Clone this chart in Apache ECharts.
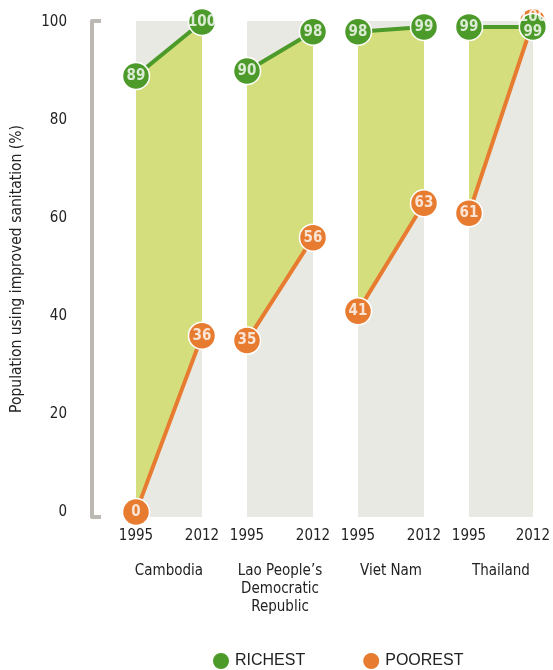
<!DOCTYPE html>
<html><head><meta charset="utf-8">
<script src="https://cdn.jsdelivr.net/npm/echarts@6/dist/echarts.min.js"></script>
<style>html,body{margin:0;padding:0;background:#fff}#c{width:553px;height:670px}</style>
</head><body><div id="c"></div>
<script>
const countries = ['Cambodia', 'Lao People\u2019s\nDemocratic\nRepublic', 'Viet Nam', 'Thailand'];
const years = ['1995', '2012'];
const richest1995 = [89, 90, 98, 99];
const richest2012 = [100, 98, 99, 99];
const poorest1995 = [0, 35, 41, 61];
const poorest2012 = [36, 56, 63, 100];
const yTicks = [0, 20, 40, 60, 80, 100];

const GREEN = '#4c9a29', ORANGE = '#e77b30', FILL = '#d5de7c', BG = '#e9e9e4';
const NARROW = "'Liberation Sans Narrow','DejaVu Sans Condensed',sans-serif";
const lefts = [136, 247, 358, 469];
const Y_MIN = -1, Y_MAX = 100.2;

const grids = [], xAxes = [], yAxes = [], series = [];
countries.forEach((c, i) => {
  grids.push({left: lefts[i], width: 66, top: 21, height: 496, show: true, backgroundColor: BG, borderWidth: 0});
  xAxes.push({
    gridIndex: i, type: 'category', data: years, boundaryGap: false,
    axisLine: {show: false}, axisTick: {show: false},
    axisLabel: {fontSize: 15, color: '#222', margin: 12, fontFamily: NARROW},
    name: c, nameLocation: 'middle', nameGap: 45,
    nameTextStyle: {fontSize: 15, color: '#222', lineHeight: 18, fontFamily: NARROW, verticalAlign: 'top'}
  });
  const y = {gridIndex: i, type: 'value', min: Y_MIN, max: Y_MAX, splitLine: {show: false}};
  if (i === 0) {
    Object.assign(y, {
      offset: 44,
      axisLine: {show: true, lineStyle: {color: '#bcb8b3', width: 4}},
      axisTick: {show: true, inside: true, length: 9, customValues: [Y_MIN, Y_MAX], lineStyle: {color: '#bcb8b3', width: 4}},
      axisLabel: {customValues: yTicks, margin: 25, fontSize: 15, color: '#222', fontFamily: NARROW},
      name: 'Population using improved sanitation (%)', nameLocation: 'middle', nameGap: 67,
      nameTextStyle: {fontSize: 15.5, color: '#222', fontFamily: NARROW}
    });
  } else {
    Object.assign(y, {show: false});
  }
  yAxes.push(y);

  const r = [richest1995[i], richest2012[i]];
  const p = [poorest1995[i], poorest2012[i]];
  const base = {type: 'line', xAxisIndex: i, yAxisIndex: i, silent: true, animation: false, clip: false};
  series.push(Object.assign({}, base, {name: 'rfill', data: r, showSymbol: false, lineStyle: {width: 0}, areaStyle: {color: FILL, opacity: 1}, z: 1}));
  series.push(Object.assign({}, base, {name: 'pfill', data: p, showSymbol: false, lineStyle: {width: 0}, areaStyle: {color: BG, opacity: 1}, z: 2}));
  series.push(Object.assign({}, base, {name: 'POOREST', data: p, symbol: 'circle', symbolSize: 27, showSymbol: true,
    lineStyle: {color: ORANGE, width: 4}, itemStyle: {color: ORANGE, borderColor: '#fff', borderWidth: 1.5}, z: 3}));
  series.push(Object.assign({}, base, {name: 'RICHEST', data: r, symbol: 'circle', symbolSize: 27, showSymbol: true,
    lineStyle: {color: GREEN, width: 4}, itemStyle: {color: GREEN, borderColor: '#fff', borderWidth: 1.5}, z: 4}));
  const close = k => Math.abs(r[k] - p[k]) <= 2;
  const lbl = (vals, dir) => vals.map((v, k) => ({value: v, label: {offset: close(k) ? [0, dir] : [0, 0]}}));
  const lblBase = {type: 'scatter', xAxisIndex: i, yAxisIndex: i, silent: true, animation: false, symbolSize: 1, clip: false,
    itemStyle: {color: 'rgba(0,0,0,0)'}, z: 10,
    label: {show: true, position: 'inside', color: '#fff', fontWeight: 'bold', fontSize: 15, fontFamily: NARROW,
      formatter: prm => prm.value}};
  series.push(Object.assign({}, lblBase, {name: 'plabel', data: lbl(p, -5)}));
  series.push(Object.assign({}, lblBase, {name: 'rlabel', data: lbl(r, 5)}));
});

const chart = echarts.init(document.getElementById('c'), null, {renderer: 'canvas'});
chart.setOption({
  animation: false,
  grid: grids, xAxis: xAxes, yAxis: yAxes, series: series,
  legend: {
    data: [{name: 'RICHEST', icon: 'circle', itemStyle: {color: GREEN}}, {name: 'POOREST', icon: 'circle', itemStyle: {color: ORANGE}}],
    left: 206, top: 646, itemWidth: 18, itemHeight: 18, itemGap: 56,
    textStyle: {fontSize: 16, color: '#222', fontFamily: "'Liberation Sans',Arial,sans-serif"}
  }
});
</script></body></html>
